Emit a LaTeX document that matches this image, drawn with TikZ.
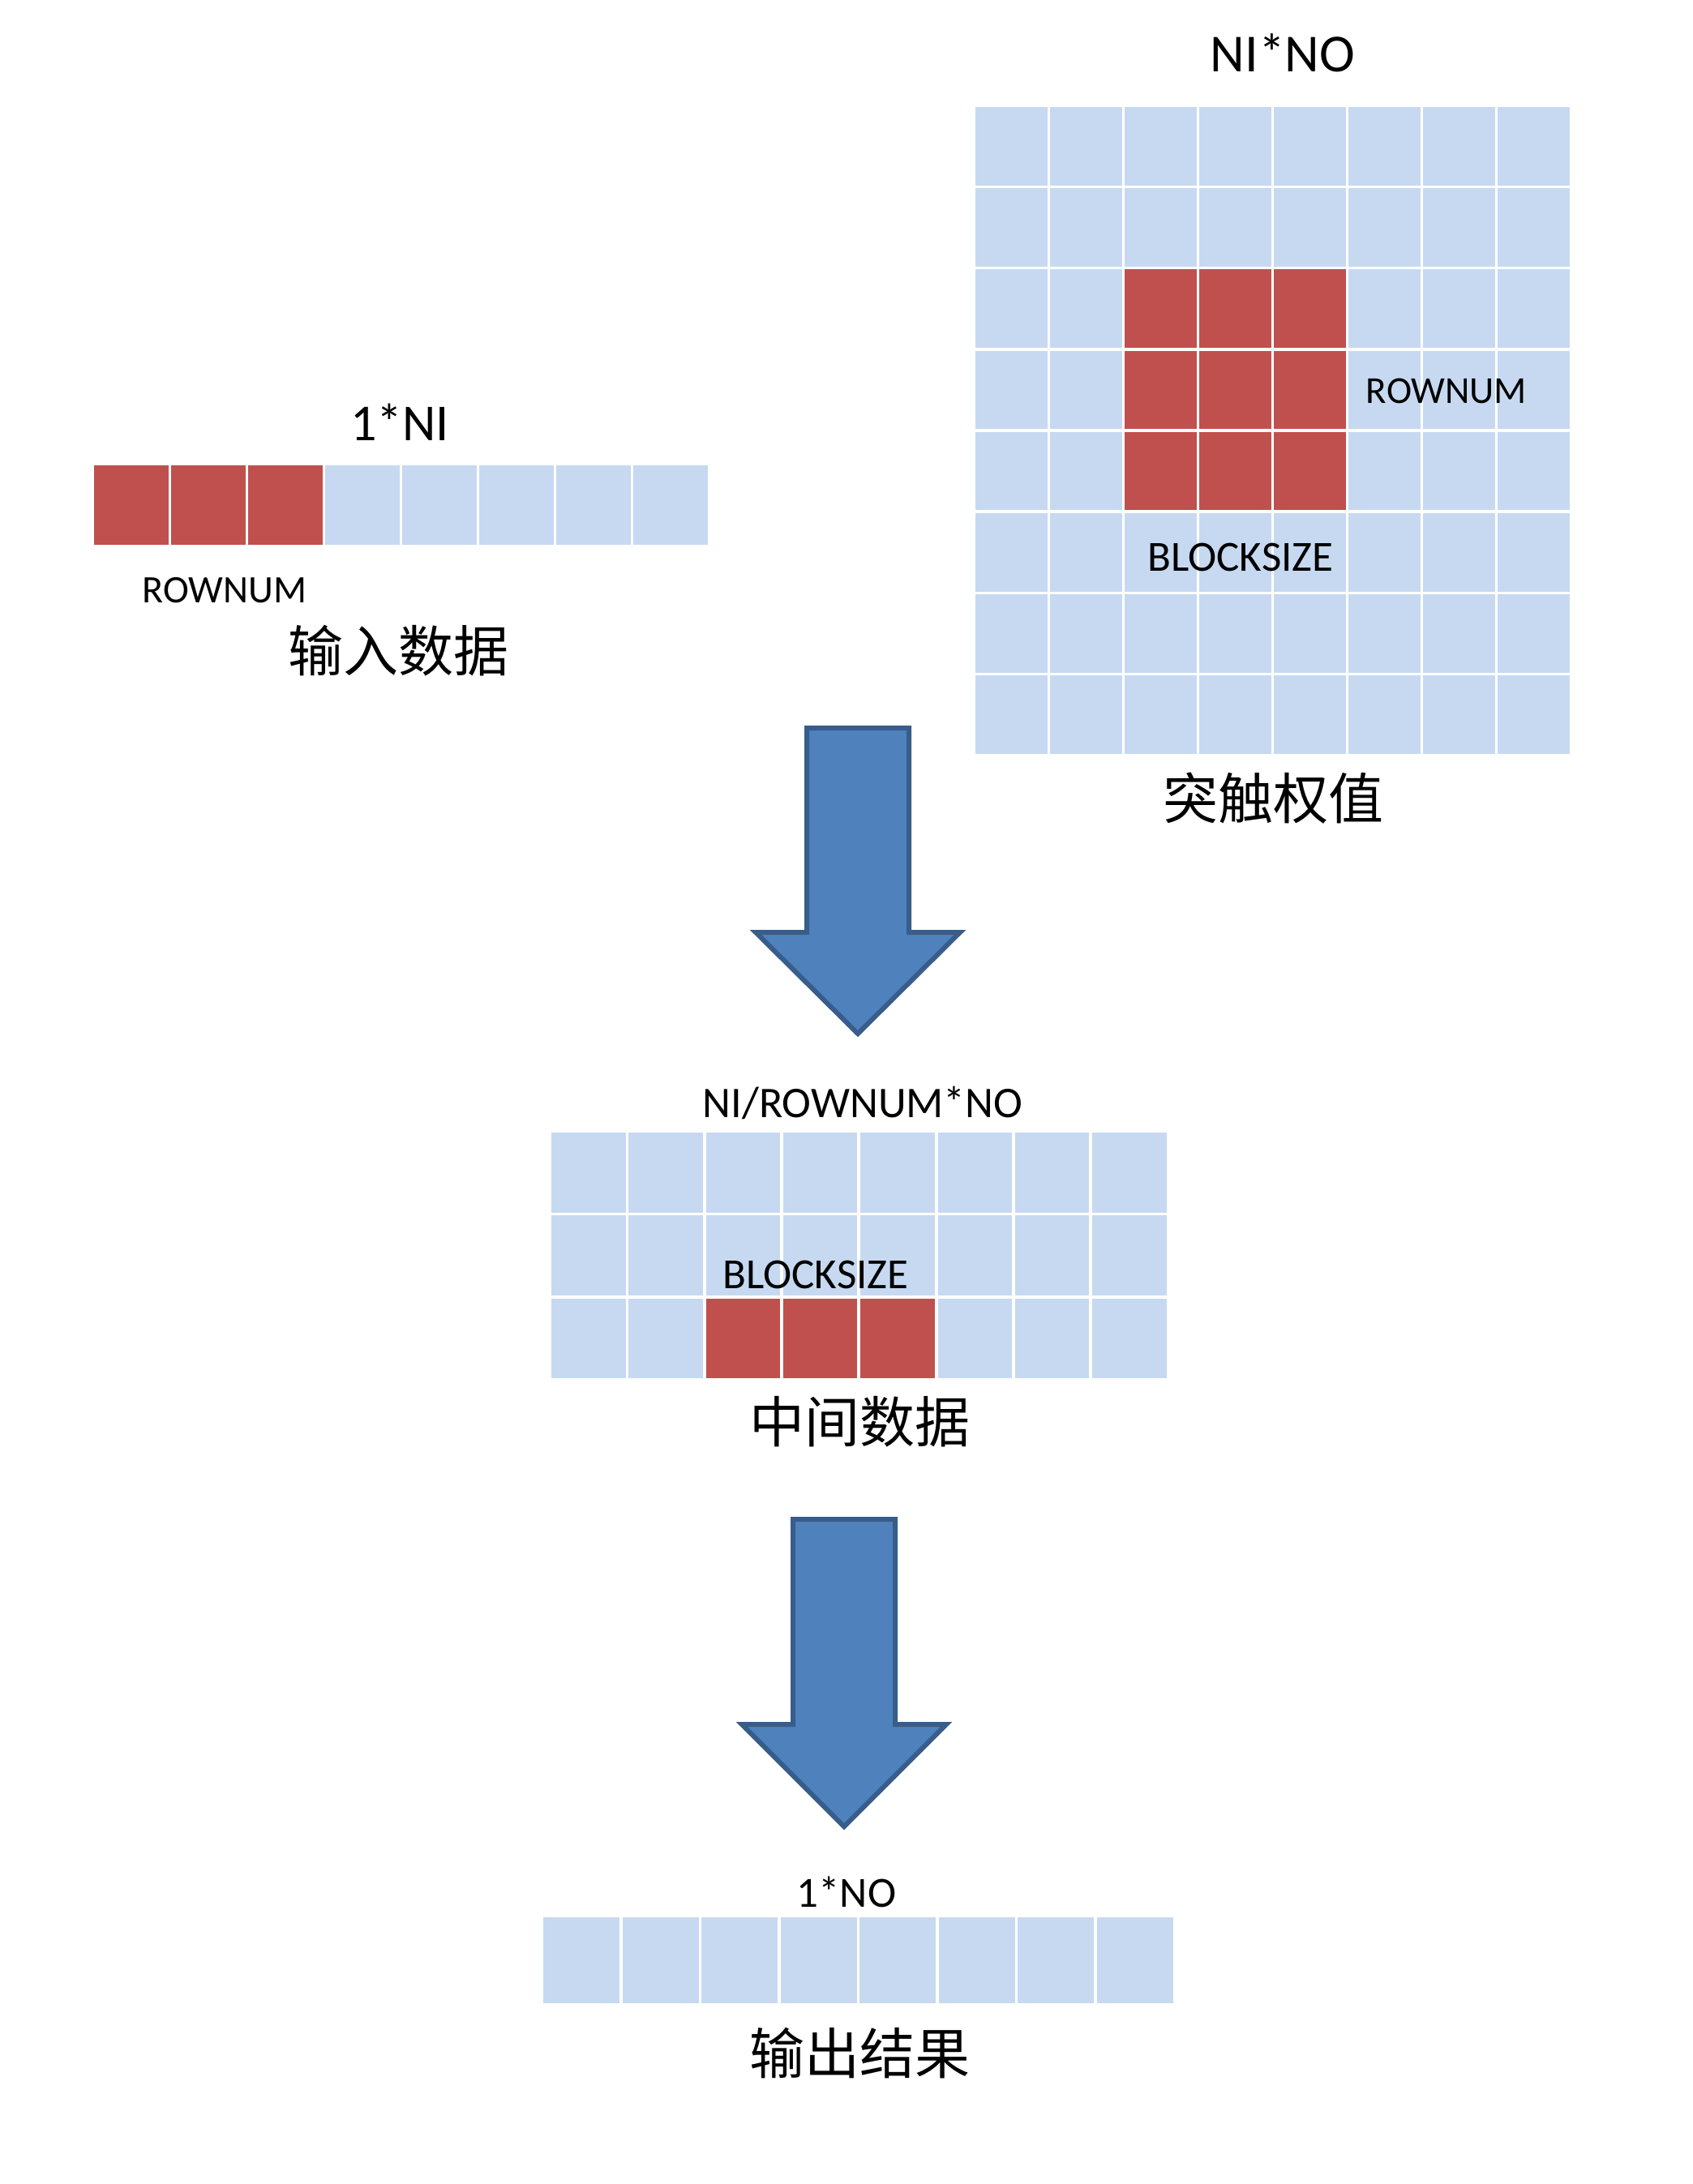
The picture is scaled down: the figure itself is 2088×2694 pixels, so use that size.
\documentclass[tikz,border=0pt]{standalone}
\usepackage{fontspec}
\setmainfont{Carlito}
\newfontfamily\cjk{Noto Sans CJK SC}
\definecolor{cellblue}{HTML}{C6D9F1}
\definecolor{cellred}{HTML}{C0504D}
\definecolor{arrowfill}{HTML}{4F81BD}
\definecolor{arrowline}{HTML}{385D8A}
\begin{document}
\begin{tikzpicture}[x=1pt,y=-1pt,
  cell/.style={anchor=north west, inner sep=0pt, outer sep=0pt, draw=none},
  lbl/.style={anchor=base, inner sep=0pt, text=black},
  cjklbl/.style={inner sep=0pt, text=black, font=\cjk\fontsize{68}{80}\selectfont},
  bigarrow/.style={fill=arrowfill, draw=arrowline, line width=6pt, line join=miter}]
\useasboundingbox (0,0) rectangle (2088,2694);

% input row 1*NI
\foreach \i in {0,...,7} {
  \pgfmathsetmacro{\cx}{116+\i*95}
  \ifnum\i<3 \def\cc{cellred}\else\def\cc{cellblue}\fi
  \node[cell, fill=\cc, minimum width=92pt, minimum height=98pt] (in-\i) at (\cx,574) {};
}
\node[lbl, font=\fontsize{64}{76}\selectfont] (tNI) at (493,543) {1*NI};
\node[lbl, font=\fontsize{48}{58}\selectfont] (tRow1) at (277,743) {ROWNUM};
\node[cjklbl] (tIn) at (491,803) {输入数据};

% weight matrix NI*NO
\foreach \r in {0,...,7} {
  \foreach \c in {0,...,7} {
    \pgfmathsetmacro{\cx}{1203+\c*92}
    \pgfmathsetmacro{\cy}{132+\r*100.2}
    \pgfmathtruncatemacro{\isred}{and(and(\r>=2,\r<=4),and(\c>=2,\c<=4))}
    \ifnum\isred=1 \def\cc{cellred}\else\def\cc{cellblue}\fi
    \node[cell, fill=\cc, minimum width=88.5pt, minimum height=96.5pt] (w-\r-\c) at (\cx,\cy) {};
  }
}
\node[lbl, font=\fontsize{66}{78}\selectfont] (tNINO) at (1582,88) {NI*NO};
\node[lbl, font=\fontsize{47}{56}\selectfont] (tRow2) at (1784,497) {ROWNUM};
\node[lbl, font=\fontsize{53}{64}\selectfont] (tBlk1) at (1530,704) {BLOCKSIZE};
\node[cjklbl] (tW) at (1570,985) {突触权值};

% arrow 1
\draw[bigarrow] (995,898) -- (1121,898) -- (1121,1150) -- (1184,1150) -- (1058,1275)
  -- (932,1150) -- (995,1150) -- cycle;

% middle data
\foreach \r in {0,...,2} {
  \foreach \c in {0,...,7} {
    \pgfmathsetmacro{\cx}{680+\c*95.3}
    \pgfmathsetmacro{\cy}{1397+\r*102.3}
    \pgfmathtruncatemacro{\isred}{and(\r==2,and(\c>=2,\c<=4))}
    \ifnum\isred=1 \def\cc{cellred}\else\def\cc{cellblue}\fi
    \node[cell, fill=\cc, minimum width=91.5pt, minimum height=98.5pt] (m-\r-\c) at (\cx,\cy) {};
  }
}
\node[lbl, font=\fontsize{54}{64}\selectfont] (tMid) at (1064,1378) {NI/ROWNUM*NO};
\node[lbl, font=\fontsize{53}{64}\selectfont] (tBlk2) at (1006,1589) {BLOCKSIZE};
\node[cjklbl] (tM) at (1060,1754) {中间数据};

% arrow 2
\draw[bigarrow] (978,1874) -- (1104,1874) -- (1104,2127) -- (1167,2127) -- (1041,2253)
  -- (915,2127) -- (978,2127) -- cycle;

% output row
\foreach \i in {0,...,7} {
  \pgfmathsetmacro{\cx}{670+\i*97.5}
  \node[cell, fill=cellblue, minimum width=94pt, minimum height=106pt] (o-\i) at (\cx,2365) {};
}
\node[lbl, font=\fontsize{53}{64}\selectfont] (tNO) at (1044,2352) {1*NO};
\node[cjklbl] (tOut) at (1060,2533) {输出结果};
\end{tikzpicture}
\end{document}
